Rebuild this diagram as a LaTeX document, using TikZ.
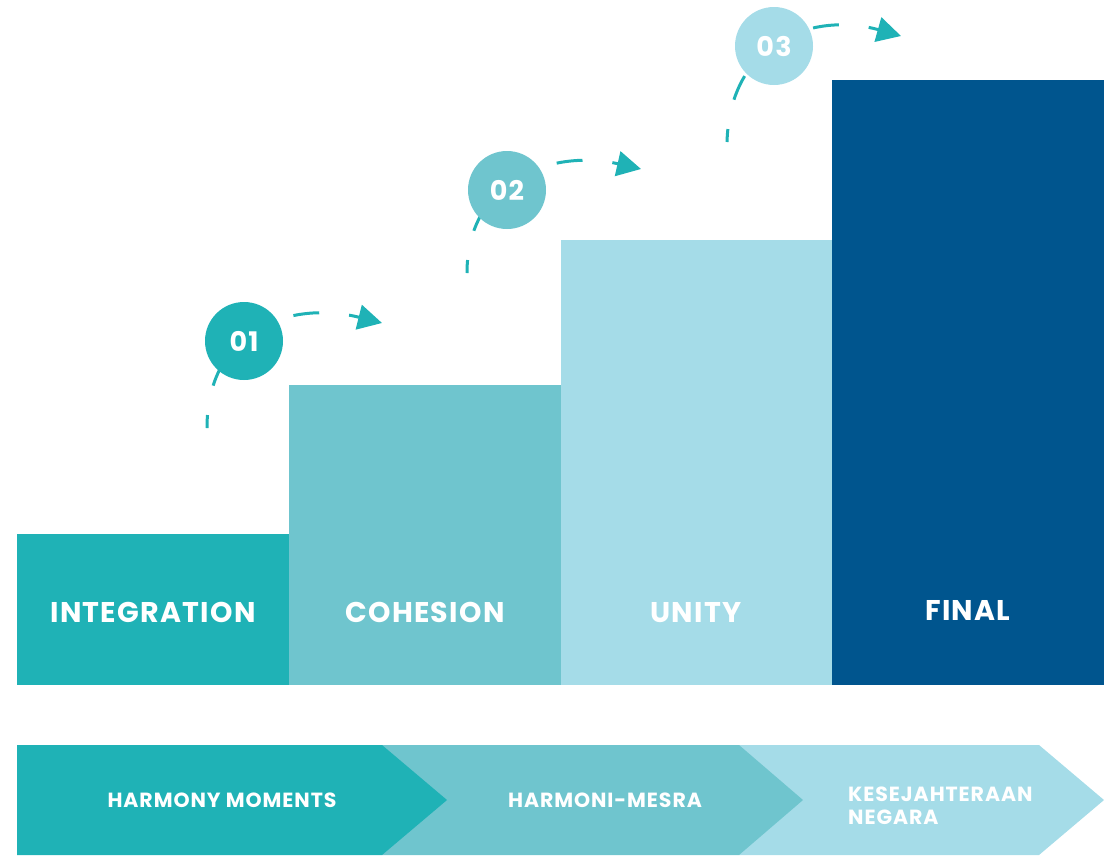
\documentclass[tikz,border=0pt]{standalone}
\usepackage{fontspec}
\setmainfont{Poppins}
\newfontfamily\labfont{Poppins}[LetterSpace=4.5]
\usetikzlibrary{arrows.meta}
\definecolor{cA}{HTML}{1FB2B6}
\definecolor{cB}{HTML}{6FC5CE}
\definecolor{cC}{HTML}{A5DCE8}
\definecolor{cD}{HTML}{00558E}
\begin{document}
\begin{tikzpicture}[x=1pt,y=-1pt,
  barlabel/.style={text=white,font=\labfont\bfseries\fontsize{28.5}{30}\selectfont,inner sep=0pt},
  chevlabel/.style={text=white,font=\labfont\bfseries\fontsize{20.5}{23.3}\selectfont,inner sep=0pt},
  numcircle/.style={circle,minimum size=78pt,inner sep=0pt,text=white,font=\labfont\bfseries\fontsize{27}{30}\selectfont},
  flow/.style={draw=cA,line width=3pt,dash pattern=on 26pt off 30pt,dash phase=13pt,
    -{Triangle[length=24pt,width=25pt,fill=cA]}}
]
\useasboundingbox (0,0) rectangle (1110,855);
% bars
\fill[cA] (17,534) rectangle (289,685);
\fill[cB] (289,385) rectangle (561,685);
\fill[cC] (561,240) rectangle (832,685);
\fill[cD] (832,80) rectangle (1104,685);
\node[barlabel] (l1) at (153,612.5) {INTEGRATION};
\node[barlabel] (l2) at (425,612.5) {COHESION};
\node[barlabel] (l3) at (696,612.5) {UNITY};
\node[barlabel] (l4) at (968,610.5) {FINAL};
% chevrons
\fill[cC] (739,745) -- (1039,745) -- (1104,800) -- (1039,855) -- (739,855) -- cycle;
\fill[cB] (382,745) -- (739,745) -- (803,800) -- (739,855) -- (382,855) -- cycle;
\fill[cA] (17,745) -- (382,745) -- (447,800) -- (382,855) -- (17,855) -- cycle;
\node[chevlabel] (c1) at (222,800.5) {HARMONY MOMENTS};
\node[chevlabel] (c2) at (605,800.5) {HARMONI-MESRA};
\node[chevlabel,align=left,anchor=west] (c3) at (848,806) {KESEJAHTERAAN\\NEGARA};
% flow arrows
\coordinate (s1) at (207,428); \coordinate (t1) at (382,323);
\coordinate (s2) at (467,273); \coordinate (t2) at (641,169);
\coordinate (s3) at (727,142); \coordinate (t3) at (901,36);
\draw[flow] (s1) .. controls (207,330) and (290,300) .. (t1);
\draw[flow] (s2) .. controls (467,179) and (553,149) .. (t2);
\draw[flow] (s3) .. controls (730,40) and (815,12) .. (t3);
% numbered circles
\node[numcircle,fill=cA] (n1) at (244,341) {01};
\node[numcircle,fill=cB] (n2) at (507,190) {02};
\node[numcircle,fill=cC] (n3) at (774,46) {03};
\end{tikzpicture}
\end{document}
